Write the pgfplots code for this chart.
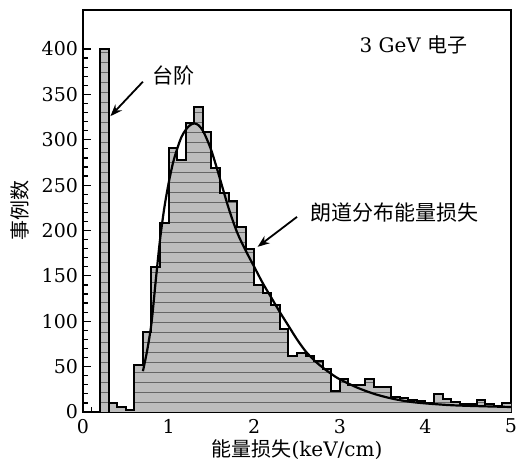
\documentclass[border=0pt]{standalone}
\usepackage{fontspec}
\setmainfont{DejaVu Serif}
\newfontfamily\cjk{Noto Sans CJK SC}
\usepackage{pgfplots}
\usepackage{pgfplotstable}
\pgfplotsset{compat=1.18}
\usetikzlibrary{patterns.meta,arrows.meta}

\pgfplotstableread{
x y
0.2 400
0.3 10
0.4 5
0.5 2
0.6 52
0.7 88
0.8 160
0.9 208
1.0 291
1.1 278
1.2 319
1.3 336
1.4 309
1.5 269
1.6 241
1.7 233
1.8 204
1.9 180
2.0 140
2.1 131
2.2 118
2.3 92
2.4 62
2.5 65
2.6 62
2.7 56
2.8 47
2.9 23
3.0 36
3.1 30
3.2 30
3.3 36
3.4 27
3.5 27
3.6 17
3.7 15
3.8 13
3.9 12
4.0 10
4.1 20
4.2 14
4.3 11
4.4 9
4.5 9
4.6 13
4.7 9
4.8 7
4.9 10
5.0 10
}\histdata

\pgfplotstableread{
x y
0.2 0
0.2 400
0.3 10
0.4 5
0.5 2
0.6 52
0.7 88
0.8 160
0.9 208
1.0 291
1.1 278
1.2 319
1.3 336
1.4 309
1.5 269
1.6 241
1.7 233
1.8 204
1.9 180
2.0 140
2.1 131
2.2 118
2.3 92
2.4 62
2.5 65
2.6 62
2.7 56
2.8 47
2.9 23
3.0 36
3.1 30
3.2 30
3.3 36
3.4 27
3.5 27
3.6 17
3.7 15
3.8 13
3.9 12
4.0 10
4.1 20
4.2 14
4.3 11
4.4 9
4.5 9
4.6 13
4.7 9
4.8 7
4.9 10
5.0 10
}\histline

\pgfplotstableread{
x y
0.70 45
0.75 68
0.80 98
0.85 145
0.90 190
0.95 225
1.00 252
1.05 274
1.10 290
1.15 303
1.20 311
1.25 316
1.30 318
1.35 316
1.40 310
1.45 300
1.50 288
1.55 273
1.60 257
1.70 225
1.80 198
1.90 178
2.00 160
2.10 142
2.20 126
2.30 110
2.40 95
2.50 80
2.60 67
2.70 57
2.80 49
2.90 42
3.00 36
3.20 27
3.40 20
3.60 15
3.80 11.5
4.00 9.5
4.30 7.5
4.60 6.5
5.00 5.5
}\landau

\begin{document}
\begin{tikzpicture}
\begin{axis}[name=ax, scale only axis, width=214pt, height=201pt,
  xmin=0, xmax=5, ymin=0, ymax=443,
  xtick={0,1,2,3,4,5}, minor x tick num=9,
  ytick={0,50,...,400}, minor y tick num=4,
  tick align=inside, xtick pos=bottom, ytick pos=left,
  major tick length=4pt, minor tick length=2.3pt,
  every tick/.style={black, line width=0.6pt},
  axis line style={line width=0.9pt},
  ticklabel style={font=\fontsize{9.5}{11}\selectfont},
  yticklabel style={xshift=1pt},
  /pgf/number format/assume math mode=true,
  xlabel={{\cjk 能量损失}(keV/cm)},
  ylabel={\cjk 事例数},
  label style={font=\fontsize{10}{12}\selectfont},
  xlabel style={at={(axis description cs:0.5,-0.0945)}, anchor=center},
  ylabel style={at={(axis description cs:-0.147,0.5)}, anchor=center},
  clip=false,
]
\addplot[ybar interval, fill=black!26, draw=none,
  postaction={pattern={Lines[angle=0,distance=5pt,line width=0.5pt]}, pattern color=black!60}]
  table {\histdata};
\addplot[const plot mark left, black, line width=1pt] table {\histline};
\addplot[black, line width=1pt] coordinates {(0.3,0) (0.3,10)};
\addplot[black, line width=1.1pt, smooth] table {\landau};

\node[font=\fontsize{10}{12}\selectfont] at (axis cs:3.86,404) {3 GeV {\cjk 电子}};
\node[font=\fontsize{10.5}{12}\selectfont\cjk] at (axis cs:1.06,371) {台阶};
\draw[-{Stealth[length=6pt,width=4.5pt]}, line width=0.9pt] (axis cs:0.70,364) -- (axis cs:0.32,326);
\node[font=\fontsize{10.5}{12}\selectfont\cjk] at (axis cs:3.64,220) {朗道分布能量损失};
\draw[-{Stealth[length=6pt,width=4.5pt]}, line width=0.9pt] (axis cs:2.50,215) -- (axis cs:2.04,182);
\end{axis}
\pgfresetboundingbox
\path ([xshift=-41.5pt,yshift=-30.5pt]ax.south west) rectangle ([xshift=3pt,yshift=5pt]ax.north east);
\end{tikzpicture}
\end{document}
